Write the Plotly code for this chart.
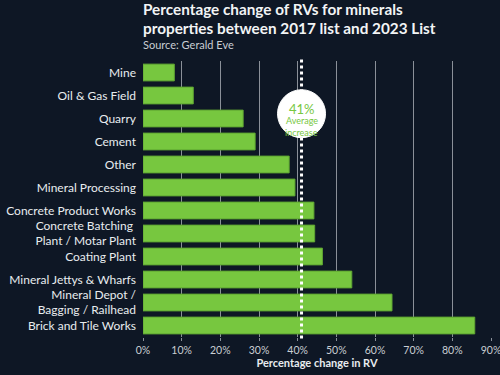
import plotly.graph_objects as go

categories = [
    "Mine", "Oil & Gas Field", "Quarry", "Cement", "Other", "Mineral Processing",
    "Concrete Product Works", "Concrete Batching <br>Plant / Motar Plant", "Coating Plant",
    "Mineral Jettys & Wharfs", "Mineral Depot /<br>Bagging / Railhead", "Brick and Tile Works",
]
values = [8.1, 13.0, 25.9, 29.0, 37.8, 39.3, 44.2, 44.4, 46.4, 54.0, 64.4, 85.8]
average = 41
tick_vals = [0, 10, 20, 30, 40, 50, 60, 70, 80, 90]
tick_text = ["0%", "10%", "20%", "30%", "40%", "50%", "60%", "70%", "80%", "90%"]
title_lines = ["Percentage change of RVs for minerals", "properties between 2017 list and 2023 List"]
source_text = "Source: Gerald Eve"

BG = "#0e1725"
GREEN = "#77c73f"
FONT = "Lato"

fig = go.Figure()
fig.add_trace(go.Bar(
    x=values, y=categories, orientation="h",
    marker=dict(color=GREEN, line=dict(color="#5fa632", width=1)),
    width=0.73, hoverinfo="skip",
))

fig.update_layout(
    width=500, height=375,
    paper_bgcolor=BG, plot_bgcolor=BG,
    margin=dict(l=143, r=9, t=61, b=38, autoexpand=False),
    showlegend=False,
    font=dict(family=FONT, color="#e8ecef"),
    xaxis=dict(
        range=[0, 90], tickvals=tick_vals, ticktext=tick_text,
        showgrid=True, gridcolor="#8a9099", gridwidth=1, zeroline=False,
        tickfont=dict(size=10.5, color="#c9ced3"), ticklabeloverflow="allow",
        title=dict(text="Percentage change in RV", font=dict(size=11, color="#e8ecef", weight="bold"), standoff=2),
        ticks="outside", ticklen=3, tickcolor="#8a9099",
        automargin=False, fixedrange=True,
    ),
    yaxis=dict(
        autorange="reversed", tickfont=dict(size=12, color="#e8ecef"),
        showgrid=False, ticks="", ticklabelstandoff=6,
        automargin=False, fixedrange=True,
    ),
    bargap=0.27,
)

fig.add_shape(type="line", xref="x", yref="paper", x0=average, x1=average,
              y0=-0.005, y1=1.01, line=dict(color="white", width=3, dash="dot"), layer="above")
cy = 0.809
fig.add_shape(type="circle", xref="x", yref="paper", xsizemode="pixel", ysizemode="pixel",
              xanchor=average, yanchor=cy, x0=-24, x1=24, y0=-24, y1=24,
              fillcolor="white", line=dict(color="white", width=1), layer="above")
fig.add_annotation(x=average, xref="x", y=cy, yref="paper",
                   text=f"{average}%", showarrow=False, yshift=14.5,
                   font=dict(family=FONT, size=13, color=GREEN))
fig.add_annotation(x=average, xref="x", y=cy, yref="paper",
                   text="Average", showarrow=False, yshift=0.5,
                   font=dict(family=FONT, size=9, color=GREEN))
fig.add_annotation(x=average, xref="x", y=cy, yref="paper",
                   text="increase", showarrow=False, yshift=-11.5,
                   font=dict(family=FONT, size=9, color=GREEN))

for line, ys in zip(title_lines, [51.6, 33]):
    fig.add_annotation(x=0, xref="paper", y=1, yref="paper", xanchor="left", yanchor="middle",
                       xshift=-2, yshift=ys, align="left", showarrow=False,
                       text=line,
                       font=dict(family=FONT, size=15.3, color="#f2f4f5", weight="bold"))
fig.add_annotation(x=0, xref="paper", y=1, yref="paper", xanchor="left", yanchor="middle",
                   xshift=-2, yshift=16.5, align="left", showarrow=False,
                   text=source_text,
                   font=dict(family=FONT, size=11, color="#c9ced3"))

fig.write_html("out.html", config={"displayModeBar": False},
               post_script="document.body.style.margin='0';")
